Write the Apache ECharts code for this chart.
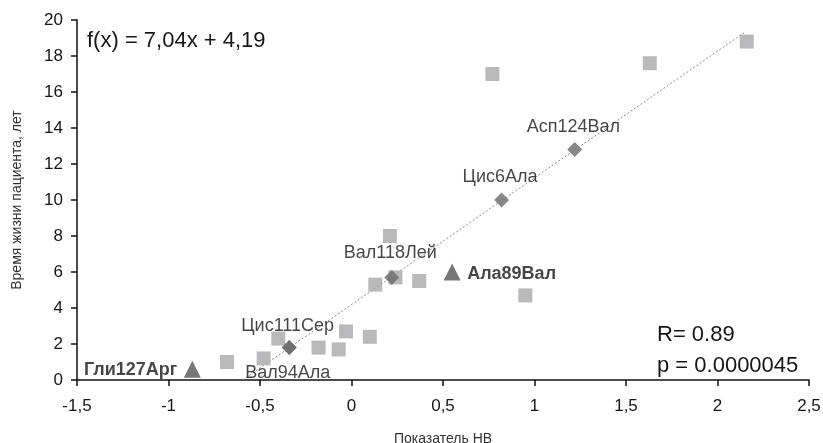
<!DOCTYPE html>
<html>
<head>
<meta charset="utf-8">
<script src="https://cdn.jsdelivr.net/npm/echarts@6/dist/echarts.min.js"></script>
<style>
  html, body { margin: 0; padding: 0; background: #fff; }
  #chart { width: 823px; height: 443px; }
</style>
</head>
<body>
<div id="chart"></div>
<script>
// остальные мутации (серые квадраты)
var otherX = [-0.68, -0.48, -0.40, -0.18, -0.07, -0.03, 0.10, 0.13, 0.21, 0.24, 0.37, 0.95, 0.77, 1.63, 2.16];
var otherY = [1.0, 1.2, 2.3, 1.8, 1.7, 2.7, 2.4, 5.3, 8.0, 5.7, 5.5, 4.7, 17.0, 17.6, 18.8];

// подписанные мутации (ромбы)
var markedNames = ['Цис111Сер', 'Вал94Ала', 'Вал118Лей', 'Цис6Ала', 'Асп124Вал'];
var markedX = [-0.34, -0.34, 0.22, 0.82, 1.22];
var markedY = [1.8, 1.8, 5.7, 10.0, 12.8];

// выделенные мутации (треугольники)
var boldNames = ['Гли127Арг', 'Ала89Вал'];
var boldX = [-0.87, 0.55];
var boldY = [0.6, 6.0];

// линия регрессии f(x) = 7,04x + 4,19
var slope = 7.04;
var intercept = 4.19;
var trendX = [-intercept / slope, 2.155];

var xTicks = { min: -1.5, max: 2.5, step: 0.5 };
var yTicks = { min: 0, max: 20, step: 2 };

// смещения подписей от центра маркера (px)
var labelShift = {
  'Цис111Сер': [-48, -22, 'left'],
  'Вал94Ала': [-44, 25, 'left'],
  'Вал118Лей': [-48, -24, 'left'],
  'Цис6Ала': [-39, -23, 'left'],
  'Асп124Вал': [-48, -23, 'left'],
  'Гли127Арг': [-15, 1, 'right'],
  'Ала89Вал': [15, 2, 'left']
};

var FONT = 'Liberation Sans, Arial, sans-serif';
var INK = '#161616';

function makeLabel(name, size) {
  var s = labelShift[name];
  return {
    show: true,
    position: [s[0] + size / 2, s[1] + size / 2],
    align: s[2],
    verticalAlign: 'middle',
    formatter: name,
    fontFamily: FONT,
    fontSize: 18,
    color: INK
  };
}

var diamondSize = 15;
var triSize = 17;

var markedData = markedNames.map(function (n, i) {
  return { name: n, value: [markedX[i], markedY[i]], label: makeLabel(n, diamondSize) };
});
var boldData = boldNames.map(function (n, i) {
  var lb = makeLabel(n, triSize);
  lb.fontWeight = 'bold';
  return { name: n, value: [boldX[i], boldY[i]], label: lb };
});

var chart = echarts.init(document.getElementById('chart'));

var option = {
  animation: false,
  backgroundColor: '#fff',
  grid: { left: 77, right: 14, top: 20, bottom: 63, containLabel: false, outerBoundsMode: 'none' },
  xAxis: {
    type: 'value',
    min: xTicks.min, max: xTicks.max, interval: xTicks.step,
    name: 'Показатель НВ',
    nameLocation: 'middle',
    nameGap: 52,
    nameTextStyle: { fontFamily: FONT, fontSize: 14, color: '#333' },
    axisLine: { show: true, onZero: false, lineStyle: { color: '#111', width: 1.5 } },
    axisTick: { show: true, length: 6, lineStyle: { color: '#111', width: 1.5 } },
    axisLabel: {
      fontFamily: FONT, fontSize: 17, color: INK, margin: 18,
      formatter: function (v) { return String(v).replace('.', ','); }
    },
    splitLine: { show: false }
  },
  yAxis: {
    type: 'value',
    min: yTicks.min, max: yTicks.max, interval: yTicks.step,
    name: 'Время жизни пациента, лет',
    nameLocation: 'middle',
    nameGap: 53,
    nameTextStyle: { fontFamily: FONT, fontSize: 14, color: '#333' },
    axisLine: { show: true, onZero: false, lineStyle: { color: '#111', width: 1.5 } },
    axisTick: { show: true, length: 6, lineStyle: { color: '#111', width: 1.5 } },
    axisLabel: { fontFamily: FONT, fontSize: 17, color: INK, margin: 14 },
    splitLine: { show: false }
  },
  graphic: [
    { type: 'text', left: 87, top: 30, style: { text: 'f(x) = 7,04x + 4,19', font: '22px ' + FONT, fill: INK } },
    { type: 'text', left: 657, top: 324, style: { text: 'R= 0.89', font: '22px ' + FONT, fill: INK } },
    { type: 'text', left: 657, top: 355, style: { text: 'p = 0.0000045', font: '22px ' + FONT, fill: INK } }
  ],
  series: [
    {
      type: 'line',
      data: trendX.map(function (x) { return [x, slope * x + intercept]; }),
      symbol: 'none',
      lineStyle: { color: '#888', width: 1, type: [2, 2] },
      z: 1
    },
    {
      type: 'scatter',
      data: otherX.map(function (x, i) { return [x, otherY[i]]; }),
      symbol: 'rect',
      symbolSize: 14,
      itemStyle: { color: '#a8a8aa' },
      z: 2
    },
    {
      type: 'scatter',
      data: markedData,
      symbol: 'diamond',
      symbolSize: diamondSize,
      itemStyle: { color: '#6a6a6c' },
      z: 3
    },
    {
      type: 'scatter',
      data: boldData,
      symbol: 'triangle',
      symbolSize: triSize,
      itemStyle: { color: '#555557' },
      z: 3
    }
  ]
};

chart.setOption(option);
</script>
</body>
</html>
